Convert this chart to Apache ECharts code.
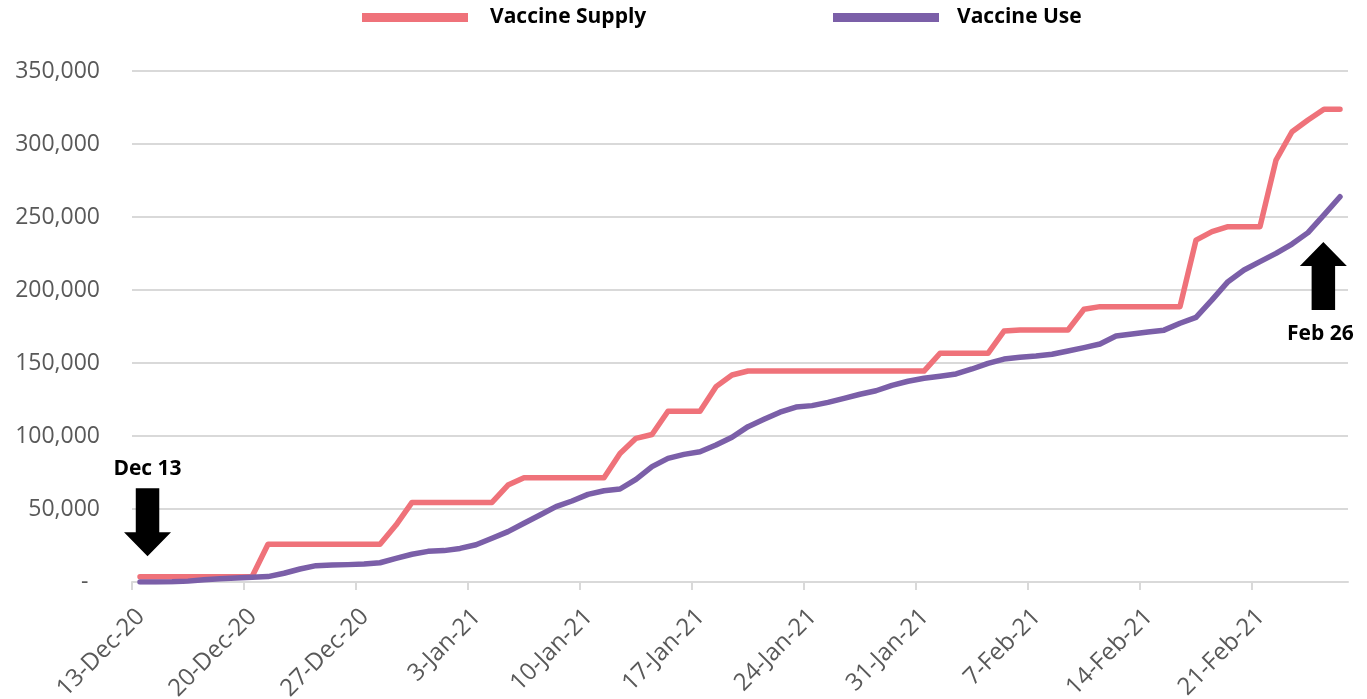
<!DOCTYPE html>
<html>
<head>
<meta charset="utf-8">
<title>Vaccine Supply vs Use</title>
<script src="https://cdn.jsdelivr.net/npm/echarts@6/dist/echarts.min.js"></script>
<style>
  html,body{margin:0;padding:0;background:#fff;}
  #main{width:1367px;height:699px;}
</style>
</head>
<body>
<div id="main"></div>
<script>
// one value per day, 13-Dec-20 .. 26-Feb-21
var tickLabels=['13-Dec-20','20-Dec-20','27-Dec-20','3-Jan-21','10-Jan-21','17-Jan-21',
                '24-Jan-21','31-Jan-21','7-Feb-21','14-Feb-21','21-Feb-21'];

var supply=[3600,3600,3600,3600,3600,3600,3600,3600,
            25800,25800,25800,25800,25800,25800,25800,25800,
            39000,
            54500,54500,54500,54500,54500,54500,
            66400,
            71400,71400,71400,71400,71400,71400,
            88000,98400,101000,
            117000,117000,117000,
            133800,141800,
            144500,144500,144500,144500,144500,144500,144500,144500,144500,144500,144500,144500,
            156600,156600,156600,156600,
            171900,
            172600,172600,172600,172600,
            186800,
            188600,188600,188600,188600,188600,188600,
            234200,240000,
            243400,243400,243400,
            289000,308400,316400,323800,323800];

var used=[0,0,100,600,1500,2200,2800,3300,3700,6000,
          8900,11200,11600,11900,12400,13200,16200,19000,21000,21500,
          23000,25500,30000,34500,40200,45900,51600,55500,60000,62500,
          63700,70300,79000,84700,87400,89200,93800,99100,106400,111400,
          116300,119800,120800,123000,125800,128600,131000,134700,137500,139500,
          140900,142500,145900,149800,152700,153900,154800,156000,158200,160500,
          163000,168500,169900,171200,172500,177200,181300,193200,205700,213700,
          219400,225100,231500,239300,251400,263900];

// days are drawn at the middle of their slot
function toPoints(arr){
    var pts=[];
    for(var i=0;i<arr.length;i++){
        pts.push([i+0.5,arr[i]]);
    }
    return pts;
}

var labelShift=0.55;
var tickValues=[],labelValues=[];
for(var k=0;k<tickLabels.length;k++){
    tickValues.push(k*7);
    labelValues.push(k*7+labelShift);
}

var upArrow='path://M24,0 L48,24 L36,24 L36,68 L12,68 L12,24 L0,24 Z';
var downArrow='path://M24,68 L48,44 L36,44 L36,0 L12,0 L12,44 L0,44 Z';
var gridColor='#D9D9D9';
var textColor='#595959';
var font='"Open Sans", sans-serif';

var myChart=echarts.init(document.getElementById('main'));
var option={
    animation:false,
    textStyle:{fontFamily:font},
    grid:{left:132,right:19,top:71,bottom:117,outerBoundsMode:'none',containLabel:false},
    legend:[{
        data:['Vaccine Supply'],
        left:357,top:2,
        icon:'rect',itemWidth:106,itemHeight:9,
        textStyle:{fontFamily:font,fontSize:21,fontWeight:'bold',color:'#000',padding:[0,0,0,17]}
    },{
        data:['Vaccine Use'],
        left:828,top:2,
        icon:'rect',itemWidth:106,itemHeight:9,
        textStyle:{fontFamily:font,fontSize:21,fontWeight:'bold',color:'#000',padding:[0,0,0,13]}
    }],
    xAxis:{
        type:'value',
        min:0,max:76,
        splitLine:{show:false},
        axisLine:{show:true,lineStyle:{color:gridColor,width:2}},
        axisTick:{show:true,customValues:tickValues,length:8,lineStyle:{color:gridColor,width:2}},
        axisLabel:{
            customValues:labelValues,
            rotate:45,
            margin:31,
            fontSize:24,
            color:textColor,
            formatter:function(v){
                return tickLabels[Math.round((v-labelShift)/7)]||'';
            }
        }
    },
    yAxis:{
        type:'value',
        min:0,max:350000,interval:50000,
        axisLine:{show:false},
        axisTick:{show:false},
        splitLine:{lineStyle:{color:gridColor,width:2}},
        axisLabel:{
            margin:32,
            fontSize:23,
            color:textColor,
            formatter:function(v){
                if(v===0) return '-\u2002';
                return v.toLocaleString('en-US');
            }
        }
    },
    series:[{
        name:'Vaccine Supply',
        type:'line',
        data:toPoints(supply),
        symbol:'none',
        color:'#EF727A',
        lineStyle:{width:5.5,cap:'round',join:'round'},
        z:2,
        markPoint:{
            silent:true,
            data:[{
                coord:[0.97,41000],
                symbol:downArrow,
                symbolSize:[47,68],
                itemStyle:{color:'#000'},
                label:{show:true,position:'top',distance:9,formatter:'Dec 13',
                       fontFamily:font,fontSize:21,fontWeight:'bold',color:'#000'}
            },{
                coord:[74.46,209600],
                symbol:upArrow,
                symbolSize:[47,68],
                itemStyle:{color:'#000'},
                label:{show:true,position:'bottom',distance:14,formatter:'Feb 26',
                       fontFamily:font,fontSize:21,fontWeight:'bold',color:'#000',offset:[-3,0]}
            }]
        }
    },{
        name:'Vaccine Use',
        type:'line',
        data:toPoints(used),
        symbol:'none',
        color:'#7B5FA8',
        lineStyle:{width:5.5,cap:'round',join:'round'},
        z:3
    }]
};
myChart.setOption(option);
</script>
</body>
</html>
